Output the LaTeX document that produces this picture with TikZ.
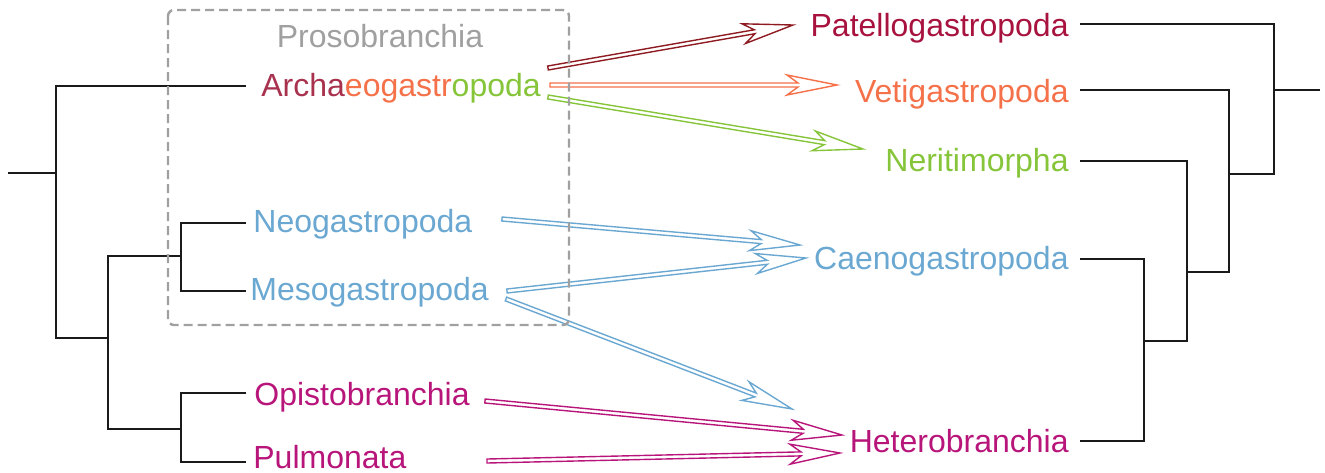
\documentclass[tikz,border=0pt]{standalone}
\usepackage{fontspec}
\setmainfont{Liberation Sans}
\usetikzlibrary{calc}

\definecolor{crimson}{HTML}{A8123E}
\definecolor{coral}{HTML}{F4714A}
\definecolor{leaf}{HTML}{86C53A}
\definecolor{sky}{HTML}{6AA8D2}
\definecolor{plum}{HTML}{B8157A}
\definecolor{rose}{HTML}{A8324E}
\definecolor{wine}{HTML}{8E1B22}
\definecolor{frame}{HTML}{A0A0A0}
\definecolor{ink}{HTML}{1A1A1A}

% outlined (hollow) arrow: colour, tail coordinate, tip coordinate
\newcommand\hollowarrow[3]{%
  \coordinate (hn) at ($(#3)!19.5pt!(#2)$);
  \coordinate (hk) at ($(#3)!25pt!(#2)$);
  \draw[hollow,draw=#1]
    ($(#2)!1pt!90:(#3)$) -- ($(hn)!1pt!90:(#3)$) -- ($(hk)!5pt!90:(#3)$) -- (#3)
    -- ($(hk)!5pt!-90:(#3)$) -- ($(hn)!1pt!-90:(#3)$) -- ($(#2)!1pt!-90:(#3)$) -- cycle;
}

\begin{document}
\begin{tikzpicture}[x=0.5pt,y=-0.5pt,
  font=\fontsize{16pt}{19pt}\selectfont,
  taxon/.style={inner sep=0pt},
  branch/.style={draw=ink, line width=1.2pt},
  hollow/.style={line width=0.7pt, line join=miter},
  group/.style={draw=frame, line width=1.2pt, dash pattern=on 4.5pt off 2.5pt, rounded corners=3pt}]
\useasboundingbox (0,0) rectangle (1325,472);

% ---- left taxa ----
\node[taxon, text=frame, anchor=base] (proso) at (380,47) {Prosobranchia};
\node[taxon, anchor=base west] (archaeo) at (261,96)
  {\textcolor{rose}{Archa}\textcolor{coral}{eogastr}\textcolor{leaf}{opoda}};
\node[taxon, text=sky, anchor=base west] (neo) at (253,232) {Neogastropoda};
\node[taxon, text=sky, anchor=base west] (meso) at (250,300) {Mesogastropoda};
\node[taxon, text=plum, anchor=base west] (opisto) at (254,405) {Opistobranchia};
\node[taxon, text=plum, anchor=base west] (pulmo) at (253,468) {Pulmonata};

% ---- right taxa ----
\node[taxon, text=crimson, anchor=base east] (patello) at (1069,36) {Patellogastropoda};
\node[taxon, text=coral, anchor=base east] (vetig) at (1069,102) {Vetigastropoda};
\node[taxon, text=leaf, anchor=base east] (nerit) at (1069,171) {Neritimorpha};
\node[taxon, text=sky, anchor=base east] (caeno) at (1069,269) {Caenogastropoda};
\node[taxon, text=plum, anchor=base east] (hetero) at (1069,452) {Heterobranchia};

% ---- left tree ----
\coordinate (lroot) at (8,173);
\coordinate (lA) at (56,173);
\coordinate (lB) at (108,338);
\coordinate (lC) at (181,256);
\coordinate (lD) at (181,429);
\coordinate (tArc) at (246,86);
\coordinate (tNeo) at (246,223);
\coordinate (tMes) at (246,291);
\coordinate (tOpi) at (246,393);
\coordinate (tPul) at (246,462);
\draw[branch] (lroot) -- (lA);
\draw[branch] (tArc) -| (lA) |- (lB);
\draw[branch] (lC) -| (lB) |- (lD);
\draw[branch] (tNeo) -| (lC) |- (tMes);
\draw[branch] (tOpi) -| (lD) |- (tPul);

% ---- right tree ----
\coordinate (tPat) at (1080,24);
\coordinate (tVet) at (1080,90);
\coordinate (tNer) at (1080,161);
\coordinate (tCae) at (1080,259);
\coordinate (tHet) at (1080,441);
\coordinate (rE) at (1144,341);
\coordinate (rF) at (1187,272);
\coordinate (rG) at (1229,174);
\coordinate (rH) at (1274,90);
\coordinate (rroot) at (1320,90);
\draw[branch] (tCae) -| (rE) |- (tHet);
\draw[branch] (tNer) -| (rF);
\draw[branch] (rE) -| (rF);
\draw[branch] (tVet) -| (rG);
\draw[branch] (rF) -| (rG);
\draw[branch] (tPat) -| (rH);
\draw[branch] (rG) -| (rH);
\draw[branch] (rH) -- (rroot);

% ---- reclassification arrows ----
\coordinate (s1) at (548,68);  \coordinate (e1) at (793,25);
\coordinate (s2) at (550,85);  \coordinate (e2) at (837,85);
\coordinate (s3) at (548,97);  \coordinate (e3) at (863,149);
\coordinate (s4) at (502,219); \coordinate (e4) at (800,245);
\coordinate (s5) at (507,291); \coordinate (e5) at (806,258);
\coordinate (s6) at (506,299); \coordinate (e6) at (792,409);
\coordinate (s7) at (485,401); \coordinate (e7) at (842,435);
\coordinate (s8) at (487,461); \coordinate (e8) at (840,453);
\hollowarrow{wine}{s1}{e1}
\hollowarrow{coral}{s2}{e2}
\hollowarrow{leaf}{s3}{e3}
\hollowarrow{sky}{s4}{e4}
\hollowarrow{sky}{s5}{e5}
\hollowarrow{sky}{s6}{e6}
\hollowarrow{plum}{s7}{e7}
\hollowarrow{plum}{s8}{e8}

% ---- Prosobranchia grouping ----
\draw[group] (168,10) rectangle (569,325);
\end{tikzpicture}
\end{document}
